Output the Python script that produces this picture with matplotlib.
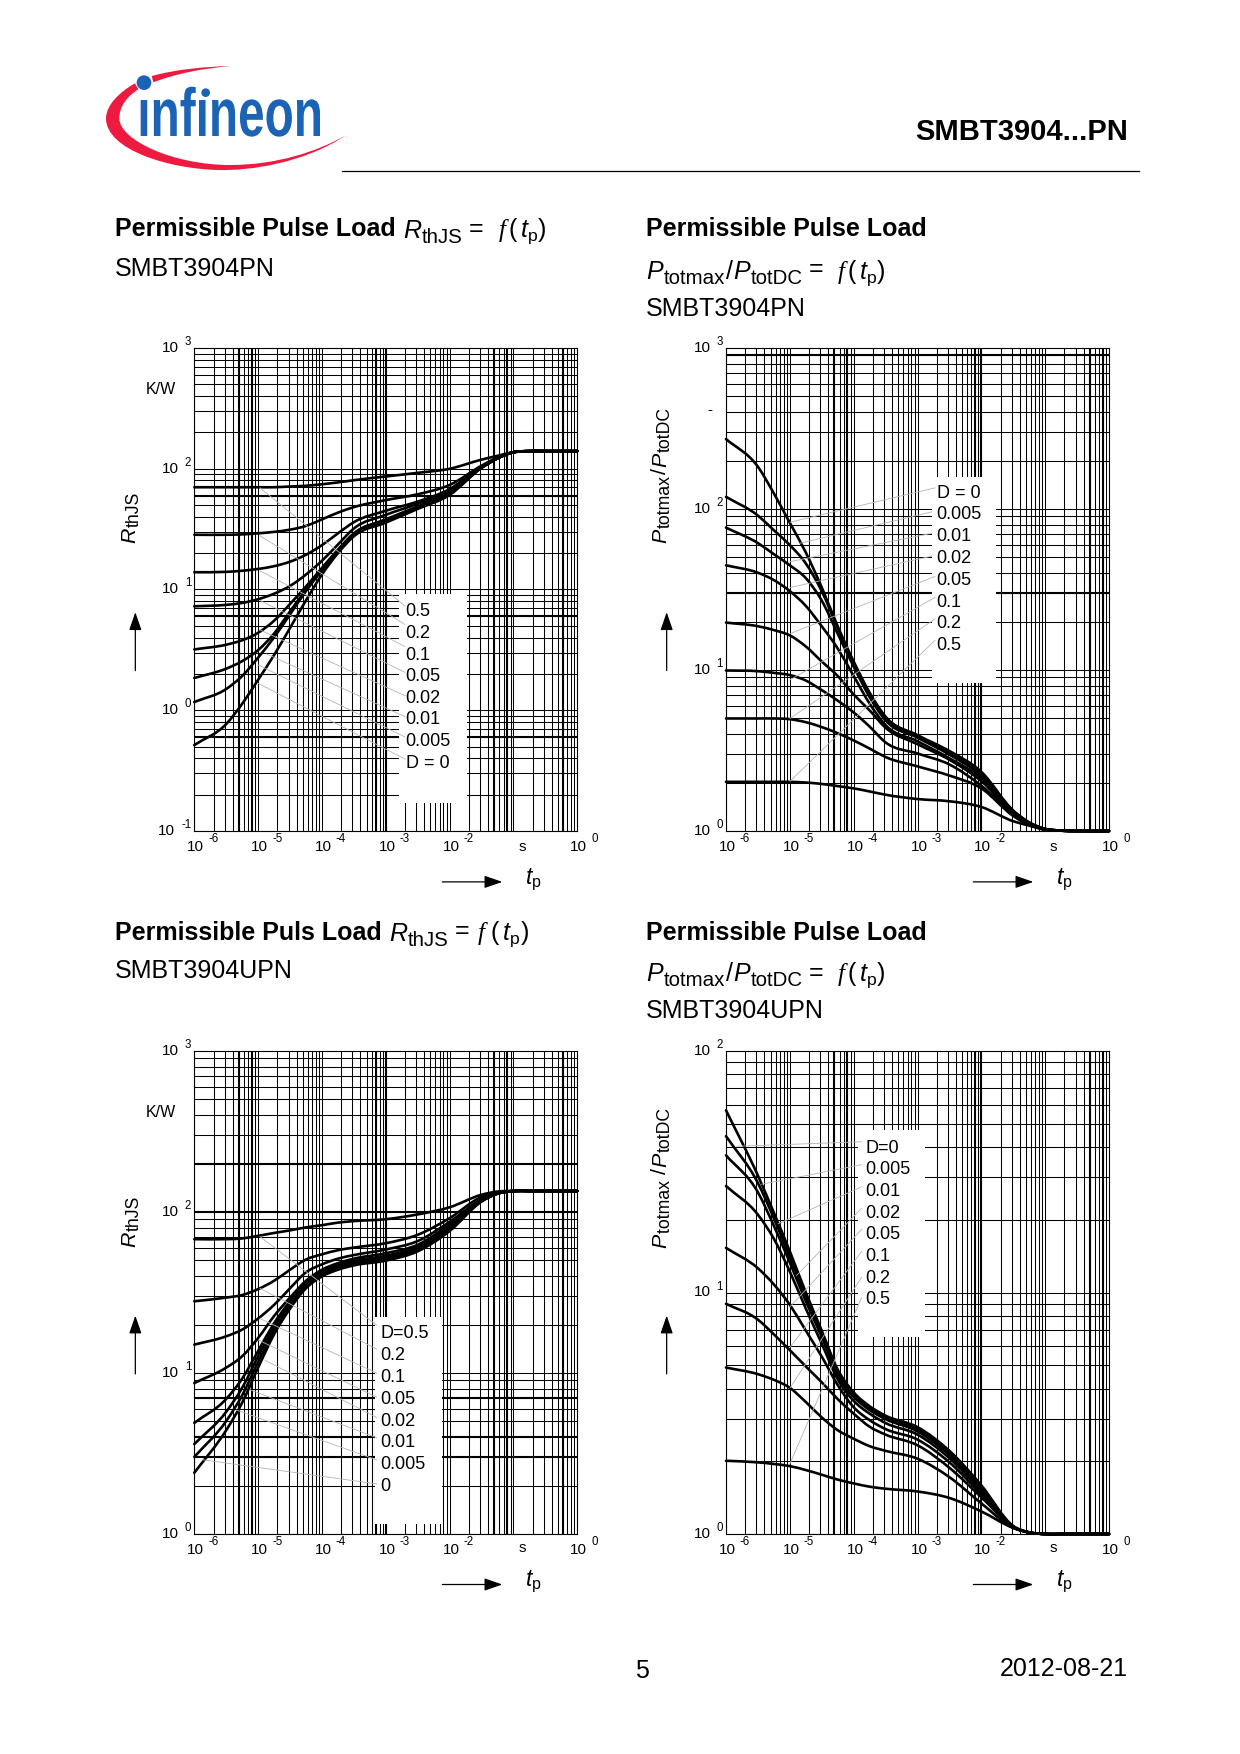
import matplotlib
matplotlib.use("Agg")
from matplotlib import pyplot as plt
import numpy as np
from matplotlib.patches import Circle, PathPatch, Rectangle
from matplotlib.path import Path
from matplotlib.textpath import TextPath
from matplotlib.font_manager import FontProperties
from matplotlib.transforms import Affine2D

plt.rcParams['font.family'] = ['Liberation Sans', 'DejaVu Sans']
plt.rcParams['mathtext.fontset'] = 'custom'
plt.rcParams['mathtext.rm'] = 'Liberation Sans'
plt.rcParams['mathtext.it'] = 'Liberation Sans:italic'
plt.rcParams['mathtext.bf'] = 'Liberation Sans:bold'
plt.rcParams['mathtext.cal'] = 'Liberation Serif:italic'

tp = [1e-6, 3.16e-6, 5.62e-6, 1e-5, 1.78e-5, 3.16e-5, 5.62e-5, 1e-4, 1.78e-4,
      3.16e-4, 1e-3, 3.16e-3, 1e-2, 3.16e-2, 5.62e-2, 1e-1, 1.78e-1, 3.16e-1, 1]

# SMBT3904PN, RthJS
r_pn_05 = [70.3, 70.3, 70.3, 70.3, 70.3, 71.3, 72.3, 74.4, 77.1, 80.4, 86.3, 92.5, 100, 119, 128, 137, 140, 140, 140]
r_pn_02 = [28.4, 28.4, 28.6, 29.2, 30, 31.3, 33.6, 38.1, 43.3, 48.1, 55, 61.5, 73.4, 106, 124, 137, 140, 140, 140]
r_pn_01 = [13.9, 14, 14.3, 14.8, 15.6, 17, 19.4, 23.3, 29.2, 36.1, 44.9, 53.5, 67.9, 104, 123, 137, 140, 140, 140]
r_pn_005 = [7.26, 7.46, 7.74, 8.31, 9.23, 10.7, 13.3, 17.3, 23.6, 32, 41.5, 51.3, 65.6, 102, 122, 137, 140, 140, 140]
r_pn_002 = [3.19, 3.49, 3.8, 4.38, 5.52, 7.59, 10.6, 15.1, 21.4, 29.2, 38.1, 48.8, 63.3, 102, 122, 137, 140, 140, 140]
r_pn_001 = [1.85, 2.21, 2.55, 3.15, 4.32, 6.58, 10, 14.7, 21, 28.4, 37.1, 47.8, 62.4, 102, 122, 137, 140, 140, 140]
r_pn_0005 = [1.17, 1.5, 1.92, 2.73, 4.02, 6.22, 9.7, 14.4, 20.5, 28, 36.3, 47.1, 61.5, 102, 122, 137, 140, 140, 140]
r_pn_0 = [0.515, 0.769, 1.13, 1.79, 2.87, 4.8, 8.13, 13.3, 20, 27.6, 35.8, 46.5, 60.7, 102, 122, 137, 140, 140, 140]

# SMBT3904PN, Ptotmax/PtotDC
p_pn_0 = [272, 183, 125, 82, 53.7, 32.6, 18.7, 11.3, 7.23, 5.13, 3.94, 3.14, 2.33, 1.34, 1.13, 1.03, 1.005, 1, 1]
p_pn_0005 = [119, 91, 73.8, 59.7, 45.9, 30.9, 18.2, 11, 7.05, 5, 3.88, 3.08, 2.27, 1.33, 1.13, 1.03, 1.005, 1, 1]
p_pn_001 = [76.6, 61.4, 52.4, 44.7, 37.2, 27, 16.8, 10.5, 6.79, 4.87, 3.8, 2.98, 2.21, 1.32, 1.12, 1.03, 1.005, 1, 1]
p_pn_002 = [44.7, 40.2, 36.2, 30.9, 25, 18.7, 13.6, 9.18, 6.18, 4.55, 3.61, 2.83, 2.13, 1.31, 1.12, 1.03, 1.005, 1, 1]
p_pn_005 = [19.7, 18.7, 17.7, 16.4, 14, 11.3, 9.18, 7.05, 5.61, 4.38, 3.46, 2.77, 2.04, 1.29, 1.11, 1.03, 1.005, 1, 1]
p_pn_01 = [9.93, 9.83, 9.6, 9.3, 8.6, 7.5, 6.45, 5.45, 4.45, 3.55, 3.03, 2.59, 1.91, 1.27, 1.1, 1.02, 1.005, 1, 1]
p_pn_02 = [5, 5, 5, 4.95, 4.74, 4.42, 4.05, 3.65, 3.25, 2.88, 2.52, 2.21, 1.84, 1.24, 1.09, 1.02, 1.005, 1, 1]
p_pn_05 = [2.02, 2.02, 2.02, 2.02, 2, 1.96, 1.9, 1.84, 1.76, 1.68, 1.58, 1.53, 1.41, 1.15, 1.08, 1.02, 1.005, 1, 1]

# SMBT3904UPN, RthJS
r_upn_05 = [67.8, 67.8, 68.5, 71.1, 74.1, 76.9, 80.3, 82.8, 85.9, 87.8, 90.2, 96.6, 107, 128, 134, 135, 135, 135, 135]
r_upn_02 = [27.9, 29.4, 30.5, 33.2, 37.4, 43.8, 50.7, 54.6, 57.9, 60.1, 64, 72.2, 91.6, 124, 132, 135, 135, 135, 135]
r_upn_01 = [15, 16.9, 18.6, 21.8, 26.5, 33.6, 42.2, 47.3, 51.3, 54, 58.5, 66, 86.9, 120, 132, 135, 135, 135, 135]
r_upn_005 = [8.66, 10.8, 12.7, 16.5, 22.6, 29.4, 37.4, 43.8, 48.1, 51.3, 55.5, 62.6, 83.7, 119, 131, 135, 135, 135, 135]
r_upn_002 = [4.9, 6.9, 9.22, 13.7, 20.4, 27.9, 36.4, 42.6, 46.6, 49.7, 53.5, 60.7, 81.5, 118, 130, 135, 135, 135, 135]
r_upn_001 = [3.62, 5.74, 8.09, 12.7, 19.3, 26.9, 35.4, 41.5, 45.6, 48.6, 52.1, 59.1, 79.4, 117, 130, 135, 135, 135, 135]
r_upn_0005 = [3.01, 5.03, 7.27, 11.7, 18.3, 26.1, 34.5, 40.5, 44.7, 47.6, 51, 57.8, 77.8, 117, 130, 135, 135, 135, 135]
r_upn_0 = [2.4, 4.41, 6.54, 10.8, 17.4, 25.1, 33.6, 39.8, 43.8, 46.6, 49.9, 57, 76.2, 116, 130, 135, 135, 135, 135]

# SMBT3904UPN, Ptotmax/PtotDC
p_upn_0 = [56.8, 30.5, 21.4, 14.8, 10, 6.95, 4.8, 3.86, 3.38, 3.09, 2.77, 2.21, 1.59, 1.08, 1.015, 1, 1, 1, 1]
p_upn_0005 = [44.4, 28.4, 20.3, 14, 9.64, 6.71, 4.67, 3.79, 3.32, 3.04, 2.72, 2.16, 1.56, 1.07, 1.015, 1, 1, 1, 1]
p_upn_001 = [37, 26, 18.9, 13.3, 9.2, 6.55, 4.52, 3.7, 3.26, 2.99, 2.66, 2.12, 1.53, 1.07, 1.015, 1, 1, 1, 1]
p_upn_002 = [27.6, 21, 16.7, 12.2, 8.58, 6.14, 4.37, 3.56, 3.15, 2.88, 2.58, 2.06, 1.5, 1.07, 1.015, 1, 1, 1, 1]
p_upn_005 = [15.3, 12.6, 10.8, 8.89, 6.95, 5.43, 4.14, 3.35, 2.96, 2.72, 2.46, 1.98, 1.46, 1.07, 1.015, 1, 1, 1, 1]
p_upn_01 = [8.98, 7.72, 6.71, 5.77, 4.94, 4.25, 3.62, 3.15, 2.78, 2.58, 2.33, 1.88, 1.42, 1.07, 1.015, 1, 1, 1, 1]
p_upn_02 = [4.89, 4.59, 4.35, 4.03, 3.52, 3.04, 2.69, 2.48, 2.31, 2.21, 2.05, 1.72, 1.34, 1.06, 1.015, 1, 1, 1, 1]
p_upn_05 = [2.01, 1.98, 1.95, 1.91, 1.84, 1.76, 1.68, 1.62, 1.57, 1.54, 1.5, 1.41, 1.24, 1.06, 1.014, 1, 1, 1, 1]

labels_pn_r = ["0.5", "0.2", "0.1", "0.05", "0.02", "0.01", "0.005", "D = 0"]
labels_pn_p = ["D = 0", "0.005", "0.01", "0.02", "0.05", "0.1", "0.2", "0.5"]
labels_upn_r = ["D=0.5", "0.2", "0.1", "0.05", "0.02", "0.01", "0.005", "0"]
labels_upn_p = ["D=0", "0.005", "0.01", "0.02", "0.05", "0.1", "0.2", "0.5"]

W, H = 1240, 1754
fig = plt.figure(figsize=(W / 100, H / 100), dpi=100, facecolor="white")
page = fig.add_axes([0, 0, 1, 1], zorder=5)
page.set_xlim(0, W)
page.set_ylim(H, 0)
page.axis("off")
renderer = fig.canvas.get_renderer()


def log_lines(low, high):
    lines = []
    for exp in range(low, high):
        lines += [k * 10.0 ** exp for k in range(1, 10)]
    return lines


def power_label(ax, exp, axis):
    if axis == "x":
        xy = (10.0 ** exp, 0)
        coords = ("data", "axes fraction")
        base, top = (-7, -16), (14, -8)
        ha = "left"
    else:
        xy = (0, 10.0 ** exp)
        coords = ("axes fraction", "data")
        base, top = (-15 - (4 if exp < 0 else 0), 0), (-3, 6)
        ha = "right"
    ax.annotate("10", xy, xycoords=coords, xytext=base, textcoords="offset pixels",
                ha=ha, va="center", fontsize=11)
    ax.annotate(str(exp), xy, xycoords=coords, xytext=top, textcoords="offset pixels",
                ha=ha, va="center", fontsize=8.3)


def smooth_curve(values):
    # cubic through the read points, done in log space so it stays straight on the axes
    x = np.log10(tp)
    y = np.log10(values)
    slope = np.gradient(y, x)
    verts = [(x[0], y[0])]
    for i in range(len(x) - 1):
        step = (x[i + 1] - x[i]) / 3
        verts.append((x[i] + step, y[i] + slope[i] * step))
        verts.append((x[i + 1] - step, y[i + 1] - slope[i + 1] * step))
        verts.append((x[i + 1], y[i + 1]))
    codes = [Path.MOVETO] + [Path.CURVE4] * (len(verts) - 1)
    return Path(10.0 ** np.array(verts), codes)


def panel(left, top, y_low, y_high, curves, box, heavy_x, heavy_y):
    width, height = 383, 483
    ax = fig.add_axes([left / W, 1 - (top + height) / H, width / W, height / H], zorder=2)
    ax.set_xscale("log")
    ax.set_yscale("log")
    ax.set_xlim(1e-6, 1)
    ax.set_ylim(10.0 ** y_low, 10.0 ** y_high)
    ax.set_xticks([], minor=False)
    ax.set_yticks([], minor=False)
    ax.set_xticks(log_lines(-6, 0), minor=True)
    ax.set_yticks(log_lines(y_low, y_high), minor=True)
    ax.tick_params(which="both", length=0, labelbottom=False, labelleft=False)
    ax.grid(which="minor", color="black", linewidth=0.75, zorder=1)
    for x in heavy_x:
        ax.axvline(x, color="black", linewidth=1.5, zorder=1)
    for y in heavy_y:
        ax.axhline(y, color="black", linewidth=1.5, zorder=1)
    ax.add_patch(Rectangle((box[0], box[2]), box[1] - box[0], box[3] - box[2],
                           facecolor="white", edgecolor="none", zorder=2))
    for values in curves:
        ax.add_patch(PathPatch(smooth_curve(values), facecolor="none", edgecolor="black",
                               linewidth=1.9, zorder=3, clip_on=False, capstyle="round"))
    for spine in ax.spines.values():
        spine.set_linewidth(0.8)
    for exp in range(-6, -1):
        power_label(ax, exp, "x")
    power_label(ax, 0, "x")
    for exp in range(y_low, y_high + 1):
        power_label(ax, exp, "y")
    return ax


def arrow(x0, y0, x1, y1):
    page.annotate("", xy=(x1, y1), xytext=(x0, y0),
                  arrowprops=dict(arrowstyle="-|>,head_length=0.55,head_width=0.19",
                                  color="black", lw=0.9, shrinkA=0, shrinkB=0,
                                  mutation_scale=20))


def chain(x, y, parts, rotation=0):
    # pieces of text one after another on a baseline: (text, size, style, drop below baseline)
    for s, size, style, drop in parts:
        if rotation:
            t = page.text(x + drop, y, s, fontsize=size, style=style, rotation=90,
                          rotation_mode="anchor", ha="left", va="baseline")
            y -= t.get_window_extent(renderer).height + 0.8
        else:
            t = page.text(x, y + drop, s, fontsize=size, style=style, ha="left", va="baseline")
            x += t.get_window_extent(renderer).width + 0.8


def r_parts(main, sub, drop):
    return [("R", main, "italic", 0), ("thJS", sub, "normal", drop)]


def p_parts(main, sub, drop, gap=""):
    return [("P", main, "italic", 0), ("totmax" + gap, sub, "normal", drop), ("/", main, "normal", 0),
            ("P", main, "italic", 0), ("totDC", sub, "normal", drop)]


def annotate_panel(ox, oy, labels, label_x, label_y, leaders, ylabel, base_x, start_y,
                   up_x, up_y0, right_x, right_y, s_y, unit, unit_y):
    # positions below are read in the crop at ox, oy: 3 per pixel across, 2.71 down
    px = lambda v: ox + v / 3
    py = lambda v: oy + v / 2.71
    for (x0, y0, x1, y1) in leaders:
        page.plot([px(x0), px(x1)], [py(y0), py(y1)], color="#b4b4b4", linewidth=0.6, zorder=1)
    for text, y in zip(labels, label_y):
        page.text(px(label_x), py(y) + 2, text, fontsize=13, va="center", ha="left")
    chain(base_x, start_y, ylabel, rotation=90)
    arrow(px(up_x), py(up_y0), px(up_x), py(up_y0 - 158))
    arrow(px(right_x), py(right_y) + 1, px(right_x + 180), py(right_y) + 1)
    page.text(px(right_x + 240), py(s_y), "s", fontsize=11, ha="center", va="center")
    page.text(px(right_x + 248), py(right_y - 12) + 3, r"$t_{\mathrm{p}}$", fontsize=16.5,
              ha="left", va="center")
    if unit == "K/W":
        page.text(px(up_x + 32), py(unit_y) + 1, unit, fontsize=11.5, ha="left", va="center")
    else:
        page.text(px(up_x + 130), py(unit_y), unit, fontsize=11, ha="center", va="center")


panel(194.3, 348, -1, 3,
      [r_pn_05, r_pn_02, r_pn_01, r_pn_005, r_pn_002, r_pn_001, r_pn_0005, r_pn_0],
      (1.6e-3, 0.0185, 0.172, 9.2),
      [5e-6, 8e-6, 7e-4, 1e-3, 5e-2, 8e-2, 0.6], [60, 6, 0.6])
panel(726, 348, 0, 3,
      [p_pn_0, p_pn_0005, p_pn_001, p_pn_002, p_pn_005, p_pn_01, p_pn_02, p_pn_05],
      (1.67e-3, 0.017, 8.26, 158),
      [5e-5, 8e-5, 8e-3, 1e-2, 0.5, 0.8], [900, 30])
panel(194.3, 1051, 0, 3,
      [r_upn_05, r_upn_02, r_upn_01, r_upn_005, r_upn_002, r_upn_001, r_upn_0005, r_upn_0],
      (6.76e-4, 7.67e-3, 1.16, 22.3),
      [5e-6, 8e-6, 7e-4, 1e-3, 5e-2, 8e-2, 0.6], [200, 100, 7, 4, 3])
panel(726, 1051, 0, 2,
      [p_upn_0, p_upn_0005, p_upn_001, p_upn_002, p_upn_005, p_upn_01, p_upn_02, p_upn_05],
      (1.18e-4, 1.31e-3, 6.54, 46.9),
      [5e-5, 8e-5, 8e-3, 1e-2, 0.5, 0.8], [])

annotate_panel(90, 320, labels_pn_r, 947, [785, 845, 905, 962, 1020, 1078, 1138, 1197],
               [(510, 455, 945, 775), (510, 585, 945, 825), (510, 680, 945, 885),
                (510, 760, 945, 955), (510, 840, 945, 1018), (530, 905, 945, 1075),
                (505, 935, 945, 1130), (505, 985, 945, 1190)],
               r_parts(15.4, 12.7, 4), 135, 543, 136, 950, 1057, 1520, 1428, "K/W", 185)
annotate_panel(630, 320, labels_pn_p, 920, [465, 523, 582, 640, 700, 760, 818, 878],
               [(480, 548, 915, 455), (510, 605, 905, 520), (480, 655, 905, 578),
                (480, 725, 905, 640), (480, 850, 915, 695), (480, 975, 915, 752),
                (480, 1080, 915, 810), (480, 1250, 915, 868)],
               p_parts(15.4, 12.7, 4), 666, 543, 110, 950, 1030, 1520, 1428, "-", 245)
annotate_panel(90, 1030, labels_upn_r, 872, [818, 878, 937, 997, 1055, 1113, 1172, 1232],
               [(510, 560, 860, 800), (510, 700, 860, 865), (510, 782, 860, 930),
                (505, 840, 860, 995), (525, 895, 860, 1050), (480, 975, 860, 1105),
                (440, 1030, 860, 1165), (340, 1165, 860, 1230)],
               r_parts(15.4, 12.7, 4), 135, 1247, 136, 932, 1057, 1500, 1405, "K/W", 222)
annotate_panel(630, 1030, labels_upn_p, 707, [317, 373, 432, 491, 550, 608, 667, 726],
               [(320, 315, 695, 303), (395, 418, 695, 365), (445, 525, 695, 425),
                (500, 665, 695, 483), (480, 750, 695, 540), (480, 860, 695, 600),
                (480, 970, 695, 670), (480, 1175, 695, 725)],
               p_parts(15.4, 12.7, 4, gap=" "), 666, 1248, 110, 932, 1030, 1500, 1405, "", 245)

TITLE = 18


def text(x, y, s, **kw):
    kw.setdefault("fontsize", TITLE)
    kw.setdefault("va", "center")
    page.text(x, y + 2.5, s, **kw)


text(114.6, 227, "Permissible Pulse Load", fontweight="bold")
chain(403, 238, r_parts(18, 14.8, 5))
text(469, 226, "=")
text(498, 229, r"$\mathcal{f}\,(\,t_{\mathrm{p}})$")
text(114.6, 267, "SMBT3904PN")

text(646, 227, "Permissible Pulse Load", fontweight="bold")
chain(646, 279, p_parts(18, 14.8, 5))
text(809, 267, "=")
text(837, 271, r"$\mathcal{f}\,(\,t_{\mathrm{p}})$")
text(646, 307, "SMBT3904PN")

text(114.6, 930, "Permissible Puls Load", fontweight="bold")
chain(389, 941, r_parts(18, 14.8, 5))
text(455, 929, "=")
text(477, 932, r"$\mathcal{f}\ (\,t_{\mathrm{p}})$")
text(114.6, 969, "SMBT3904UPN")

text(646, 930, "Permissible Pulse Load", fontweight="bold")
chain(646, 981, p_parts(18, 14.8, 5))
text(809, 970, "=")
text(837, 973, r"$\mathcal{f}\,(\,t_{\mathrm{p}})$")
text(646, 1009, "SMBT3904UPN")

text(1128, 129, "SMBT3904...PN", fontsize=21, fontweight="bold", ha="right")
page.plot([342, 1139], [171, 171], color="black", linewidth=0.9)
text(642, 1669, "5", fontsize=18, ha="center")
text(1128, 1667, "2012-08-21", fontsize=18, ha="right")

# logo, coordinates from the 3x crop at (90, 50)
RED = "#ee1a3f"
BLUE = "#1b63b5"


def logo_pt(x, y):
    return (90 + x / 3, 50 + y / 3)


swoosh = [(768, 256), (640, 340), (480, 362), (390, 360), (240, 358), (48, 300), (48, 205),
          (48, 165), (90, 125), (135, 100), (145, 118), (110, 140), (88, 170), (88, 205),
          (88, 270), (250, 345), (420, 345), (560, 345), (680, 305), (768, 256)]
swoosh_codes = [Path.MOVETO] + [Path.CURVE4] * 9 + [Path.LINETO] + [Path.CURVE4] * 9
page.add_patch(PathPatch(Path([logo_pt(*p) for p in swoosh], swoosh_codes),
                         facecolor=RED, edgecolor="none"))
upper = [(185, 78), (260, 58), (340, 50), (425, 48), (340, 55), (260, 70), (190, 97), (185, 78)]
upper_codes = [Path.MOVETO] + [Path.CURVE4] * 6 + [Path.LINETO]
page.add_patch(PathPatch(Path([logo_pt(*p) for p in upper], upper_codes),
                         facecolor=RED, edgecolor="none"))
word = TextPath((0, 0), "\u0131nf\u0131neon", size=40,
                prop=FontProperties(family="Liberation Sans", weight="bold"))
bb = word.get_extents()
x0, y0 = logo_pt(152, 258)
x1, y1 = logo_pt(690, 110)
fit = (Affine2D().translate(-bb.x0, 0)
       .scale((x1 - x0) / bb.width, (y1 - y0) / bb.y1)
       .translate(x0, y0))
page.add_patch(PathPatch(fit.transform_path(word), facecolor=BLUE, edgecolor="none"))
page.add_patch(Circle(logo_pt(162, 98), 22 / 3, facecolor=BLUE, edgecolor="none"))
page.add_patch(Circle(logo_pt(347, 128), 13 / 3, facecolor=BLUE, edgecolor="none"))

fig.savefig("out.png", dpi=100)
